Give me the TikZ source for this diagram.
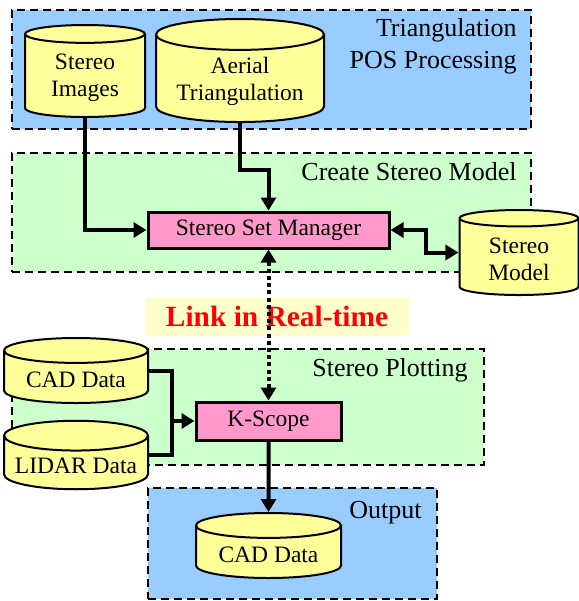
\documentclass[tikz,border=0pt]{standalone}
\usepackage{fontspec}
\setmainfont{Liberation Serif}
\usepackage{tikz}
\usetikzlibrary{positioning, arrows.meta, shapes.geometric}
\definecolor{triblue}{RGB}{153,204,255}
\definecolor{modgreen}{RGB}{204,255,204}
\definecolor{procpink}{RGB}{255,153,204}
\definecolor{dbyellow}{RGB}{255,255,153}
\definecolor{linkyellow}{RGB}{255,255,204}
\tikzstyle{group}=[draw, dash pattern=on 4pt off 2.5pt, line width=1pt, inner sep=0pt]
\tikzstyle{title}=[align=right, inner sep=0pt, font=\fontsize{13}{16}\selectfont]
\tikzstyle{proc}=[draw, fill=procpink, line width=1.5pt]
\tikzstyle{db}=[cylinder, shape border rotate=90, draw, fill=dbyellow, line width=1pt, aspect=0.22, align=center, anchor=shape center]
\tikzstyle{conn}=[line width=2pt, -{Triangle[length=6.5pt,width=7.5pt]}]
\tikzstyle{both}=[{Triangle[length=6.5pt,width=7.5pt]}-{Triangle[length=6.5pt,width=7.5pt]}]

\begin{document}
\begin{tikzpicture}[x=0.5pt, y=-0.5pt, font=\fontsize{11.75}{13.5}\selectfont]
      \useasboundingbox (0,0) rectangle (579,601);

      % group boxes
      \node [group, fill=triblue, minimum width=259.5pt, minimum height=59.5pt] (tri) at (271.5,69.5) {};
      \node [group, fill=modgreen, minimum width=259.5pt, minimum height=59.5pt] (create) at (271.5,212.5) {};
      \node [group, fill=modgreen, minimum width=236pt, minimum height=58pt] (plot) at (248,407) {};
      \node [group, fill=triblue, minimum width=144.5pt, minimum height=55.5pt] (outbox) at (292.5,543.5) {};

      \node [title, anchor=north east] (tritxt) at ([xshift=-7.5pt,yshift=-4.5pt]tri.north east) {Triangulation\\POS Processing};
      \node [title, anchor=north east] (createtxt) at ([xshift=-7.5pt,yshift=-5pt]create.north east) {Create Stereo Model};
      \node [title, anchor=north east] (plottxt) at ([xshift=-8.5pt,yshift=-5pt]plot.north east) {Stereo Plotting};
      \node [title, anchor=north east] (outtxt) at ([xshift=-8pt,yshift=-7pt]outbox.north east) {Output};

      % data stores
      \node [db, minimum width=60pt, minimum height=46pt] (simg) at (85,71) {Stereo\\Images};
      \node [db, minimum width=84pt, minimum height=47.5pt] (aerial) at (240,70.5) {Aerial\\Triangulation};
      \node [db, minimum width=59.5pt, minimum height=42.5pt] (smodel) at (519,252.5) {Stereo\\Model};
      \node [db, minimum width=72pt, minimum height=32.5pt] (cad) at (76,370.5) {CAD Data};
      \node [db, minimum width=72pt, minimum height=32pt] (lidar) at (76,455) {LIDAR Data};

      % processes
      \node [proc, minimum width=120.5pt, minimum height=18pt] (ssm) at (268.5,230) {Stereo Set Manager};
      \node [proc, minimum width=72.5pt, minimum height=19pt] (kscope) [below=75.5pt of ssm] {K-Scope};
      \node [db, minimum width=72.5pt, minimum height=32.5pt] (outcad) at (268.5,545.5) {CAD Data};

      \node [fill=linkyellow, text=red, minimum width=132pt, minimum height=18.5pt,
             font=\fontsize{14.7}{16}\selectfont\bfseries] (link) at (277,316) {Link in Real-time};

      \coordinate [left=11.5pt of kscope.west] (join);

      \draw[conn] (simg.south) |- (ssm.west);
      \draw[conn] (aerial.south) -- ++(0,47) -| (ssm.north);
      \draw[conn, both] (ssm.east) -- ++(35,0) |- (smodel.west |- smodel.shape center);
      \draw[conn, both, dash pattern=on 2pt off 1.6pt] (ssm.south) -- (kscope.north);
      \draw[line width=2pt] (cad.east |- cad.shape center) -| (join) |- (lidar.east |- lidar.shape center);
      \draw[conn] (join) -- (kscope.west);
      \draw[conn] (kscope.south) -- (outcad.north);
\end{tikzpicture}
\end{document}
